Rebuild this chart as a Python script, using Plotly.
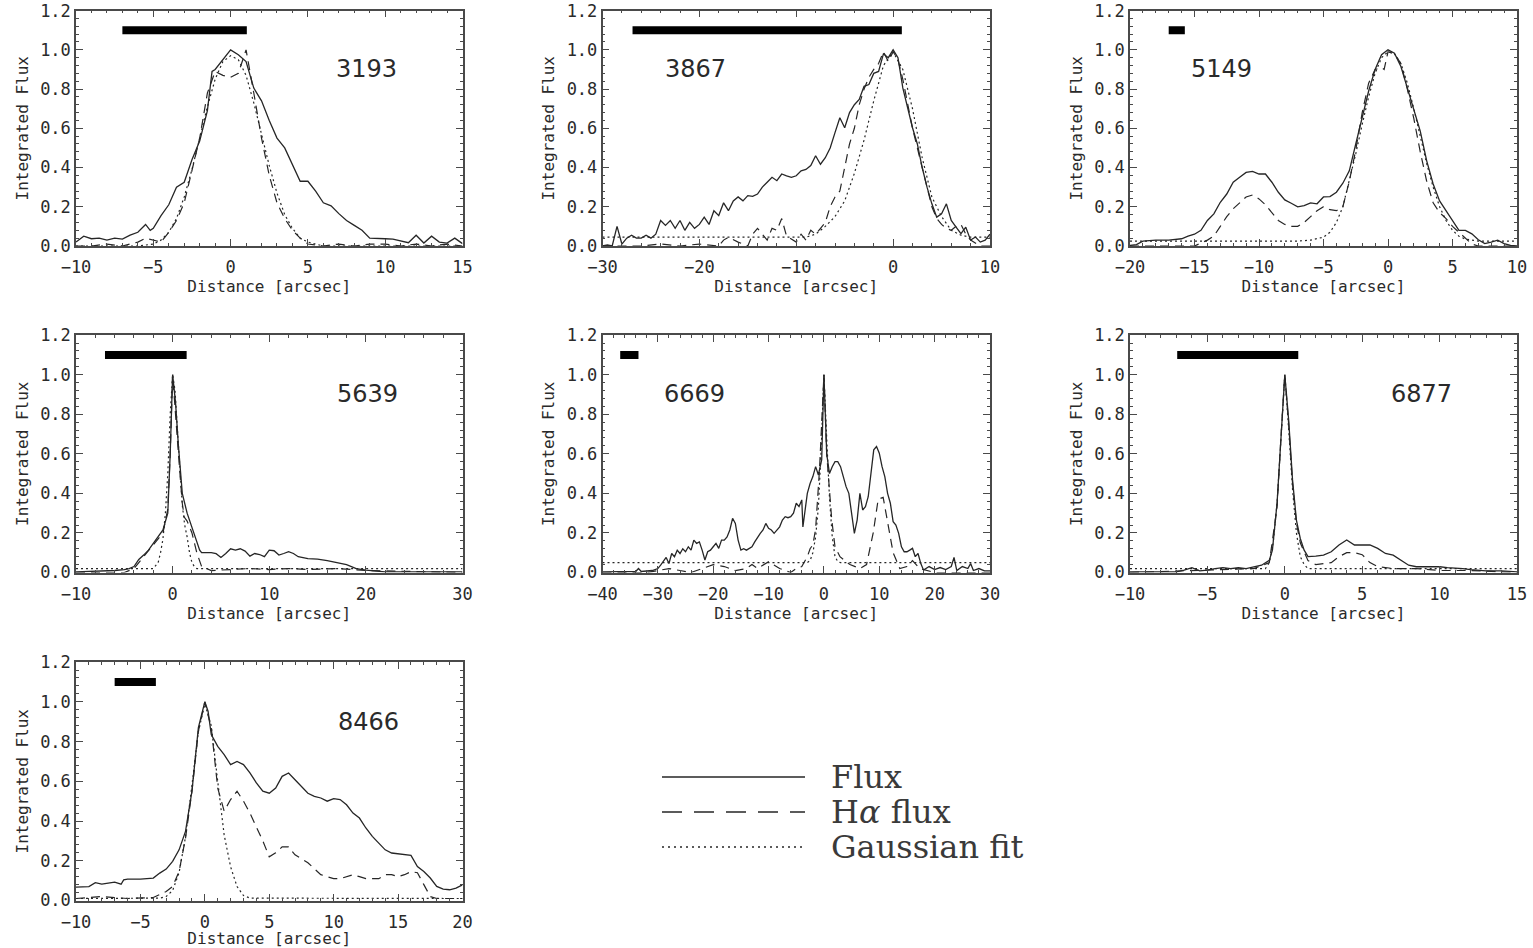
import plotly.graph_objects as go

# ---------------- data ----------------
panel_ids = ["3193", "3867", "5149", "5639", "6669", "6877", "8466"]
x_ranges = [(-10, 15), (-30, 10), (-20, 10), (-10, 30), (-40, 30), (-10, 15), (-10, 20)]
x_dticks = [5, 10, 5, 10, 10, 5, 5]
x_minor = [1, 2, 1, 2, 2, 1, 1]
y_ticks = [0.0, 0.2, 0.4, 0.6, 0.8, 1.0, 1.2]

# slit-length scale bars (x start, x end) drawn at flux level 1.1
bar_start = [-7.0, -26.9, -17.0, -7.0, -36.8, -6.95, -7.0]
bar_end = [1.05, 0.9, -15.75, 1.45, -33.5, 0.87, -3.8]
bar_level = 1.1

# galaxy-number label positions (data coords)
label_x = [8.8, -20.45, -12.9, 20.2, -23.3, 8.85, 12.7]
label_y = [0.9, 0.9, 0.9, 0.9, 0.9, 0.9, 0.9]

flux_3193 = [(-10, 0.02), (-9.5, 0.05), (-9, 0.037), (-8.5, 0.04), (-8, 0.03), (-7.5, 0.04), (-7, 0.035),
             (-6.5, 0.055), (-6, 0.07), (-5.5, 0.11), (-5.2, 0.08), (-5, 0.09), (-4.5, 0.155), (-4, 0.21),
             (-3.5, 0.30), (-3, 0.325), (-2.5, 0.44), (-2, 0.535), (-1.5, 0.69), (-1.2, 0.89), (-1, 0.90),
             (-0.5, 0.95), (0, 1.0), (0.5, 0.975), (1, 0.94), (1.5, 0.805), (2, 0.74), (2.5, 0.64), (3, 0.55),
             (3.5, 0.50), (4, 0.415), (4.5, 0.33), (5, 0.33), (5.5, 0.28), (6, 0.22), (6.5, 0.205), (7, 0.165),
             (7.5, 0.13), (8, 0.105), (8.5, 0.08), (9, 0.04), (9.5, 0.04), (10, 0.037), (10.5, 0.035),
             (11, 0.025), (11.5, 0.017), (12, 0.055), (12.5, 0.015), (13, 0.05), (13.5, 0.02), (14, 0.015),
             (14.5, 0.04), (15, 0.012)]
halpha_3193 = [(-10, 0.0), (-9, 0.0), (-8, 0.01), (-7, 0.0), (-6.5, 0.01), (-6, 0.02), (-5.5, 0.04), (-5, 0.03),
               (-4.5, 0.02), (-4, 0.07), (-3.5, 0.13), (-3, 0.22), (-2.5, 0.38), (-2, 0.55), (-1.5, 0.78),
               (-1, 0.89), (-0.5, 0.87), (0, 0.86), (0.5, 0.88), (1, 1.0), (1.5, 0.78), (2, 0.55), (2.5, 0.36),
               (3, 0.22), (3.5, 0.14), (4, 0.08), (4.5, 0.04), (5, 0.01), (6, 0.0), (7, 0.01), (8, 0.0),
               (9, 0.01), (10, 0.01), (11, 0.0), (12, 0.01), (13, 0.0), (14, 0.01), (15, 0.0)]
gauss_3193 = [(-10, 0.0), (-6, 0.0), (-5, 0.01), (-4.5, 0.03), (-4, 0.07), (-3.5, 0.14), (-3, 0.25), (-2.5, 0.39),
              (-2, 0.55), (-1.5, 0.71), (-1, 0.85), (-0.5, 0.94), (0, 0.97), (0.5, 0.95), (1, 0.87), (1.5, 0.73),
              (2, 0.57), (2.5, 0.41), (3, 0.27), (3.5, 0.16), (4, 0.09), (4.5, 0.04), (5, 0.02), (5.5, 0.01),
              (6, 0.0), (15, 0.0)]

flux_3867 = [(-30, 0.0), (-29.5, 0.005), (-29, 0.0), (-28.5, 0.1), (-28, 0.01), (-27.5, 0.04), (-27, 0.055),
             (-26.5, 0.04), (-26, 0.04), (-25.5, 0.055), (-25, 0.04), (-24.5, 0.06), (-24, 0.13), (-23.5, 0.105),
             (-23, 0.13), (-22.5, 0.09), (-22, 0.13), (-21.5, 0.08), (-21, 0.12), (-20.5, 0.09), (-20, 0.11),
             (-19.5, 0.147), (-19, 0.11), (-18.5, 0.18), (-18, 0.155), (-17.5, 0.22), (-17, 0.18), (-16.5, 0.23),
             (-16, 0.25), (-15.5, 0.23), (-15, 0.257), (-14.5, 0.253), (-14, 0.265), (-13.5, 0.3), (-13, 0.325),
             (-12.5, 0.35), (-12, 0.333), (-11.5, 0.367), (-11, 0.358), (-10.5, 0.35), (-10, 0.358), (-9.5, 0.383),
             (-9, 0.39), (-8.5, 0.41), (-8, 0.46), (-7.5, 0.417), (-7, 0.45), (-6.5, 0.5), (-6, 0.578),
             (-5.5, 0.654), (-5, 0.603), (-4.5, 0.68), (-4, 0.72), (-3.5, 0.747), (-3, 0.814), (-2.5, 0.823),
             (-2, 0.88), (-1.5, 0.89), (-1, 0.98), (-0.5, 0.96), (0, 1.0), (0.5, 0.96), (1, 0.806), (1.5, 0.704),
             (2, 0.603), (2.5, 0.52), (3, 0.4), (3.5, 0.3), (4, 0.215), (4.5, 0.147), (5, 0.164), (5.5, 0.215),
             (6, 0.13), (6.5, 0.096), (7, 0.063), (7.5, 0.096), (8, 0.03), (8.5, 0.046), (9, 0.02), (9.5, 0.03),
             (10, 0.06)]
halpha_3867 = [(-30, 0.0), (-26, 0.0), (-24, 0.01), (-22, 0.0), (-20, 0.01), (-18, 0.0), (-17.5, 0.03),
               (-17, 0.045), (-16, 0.02), (-15, 0.0), (-14.5, 0.06), (-14, 0.09), (-13.5, 0.06), (-13, 0.03),
               (-12.5, 0.09), (-12, 0.08), (-11.5, 0.14), (-11, 0.05), (-10, 0.02), (-9.5, 0.06), (-9, 0.03),
               (-8.5, 0.08), (-8, 0.06), (-7, 0.12), (-6.5, 0.2), (-6, 0.25), (-5.5, 0.28), (-5, 0.4), (-4.5, 0.52),
               (-4, 0.6), (-3.5, 0.72), (-3, 0.8), (-2.5, 0.86), (-2, 0.9), (-1.5, 0.93), (-1, 0.99), (-0.5, 0.94),
               (0, 0.99), (0.5, 0.95), (1, 0.85), (1.5, 0.72), (2, 0.6), (2.5, 0.5), (3, 0.4), (3.5, 0.3), (4, 0.2),
               (4.5, 0.14), (5, 0.11), (5.5, 0.09), (6, 0.08), (6.5, 0.1), (7, 0.11), (7.5, 0.06), (8, 0.03),
               (9, 0.0), (10, 0.0)]
gauss_3867 = [(-30, 0.045), (-9, 0.045), (-8, 0.06), (-7, 0.1), (-6, 0.15), (-5, 0.23), (-4, 0.37), (-3, 0.54),
              (-2, 0.74), (-1, 0.92), (0, 0.99), (1, 0.9), (2, 0.7), (3, 0.45), (4, 0.25), (5, 0.15), (6, 0.08),
              (7, 0.055), (8, 0.045), (10, 0.045)]

flux_5149 = [(-20, 0.003), (-19.5, 0.007), (-19, 0.025), (-18, 0.03), (-17, 0.03), (-16, 0.037), (-15.5, 0.05),
             (-15, 0.06), (-14.5, 0.08), (-14, 0.13), (-13.5, 0.164), (-13, 0.223), (-12.5, 0.265), (-12, 0.325),
             (-11.5, 0.35), (-11, 0.375), (-10.5, 0.38), (-10, 0.367), (-9.5, 0.367), (-9, 0.325), (-8.5, 0.274),
             (-8, 0.235), (-7.5, 0.218), (-7, 0.2), (-6.5, 0.206), (-6, 0.22), (-5.5, 0.215), (-5, 0.25),
             (-4.5, 0.252), (-4, 0.274), (-3.5, 0.32), (-3, 0.383), (-2.5, 0.52), (-2, 0.655), (-1.5, 0.79),
             (-1, 0.9), (-0.5, 0.975), (0, 1.0), (0.5, 0.983), (1, 0.915), (1.5, 0.806), (2, 0.688), (2.5, 0.586),
             (3, 0.434), (3.5, 0.316), (4, 0.23), (4.5, 0.18), (5, 0.13), (5.5, 0.08), (6, 0.08), (6.5, 0.062),
             (7, 0.032), (7.5, 0.012), (8, 0.02), (8.5, 0.03), (9, 0.012), (9.5, 0.003), (10, 0.0)]
halpha_5149 = [(-20, 0.0), (-15, 0.0), (-14, 0.03), (-13.5, 0.05), (-13, 0.1), (-12.5, 0.15), (-12, 0.19),
               (-11.5, 0.22), (-11, 0.25), (-10.5, 0.26), (-10, 0.24), (-9.5, 0.21), (-9, 0.17), (-8.5, 0.13),
               (-8, 0.11), (-7.5, 0.1), (-7, 0.1), (-6.5, 0.12), (-6, 0.15), (-5.5, 0.18), (-5, 0.2), (-4.5, 0.185),
               (-4, 0.18), (-3.5, 0.2), (-3, 0.33), (-2.5, 0.49), (-2, 0.68), (-1.5, 0.83), (-1, 0.9), (-0.5, 0.91),
               (-0.3, 0.9), (0, 0.99), (0.5, 0.98), (1, 0.93), (1.5, 0.8), (2, 0.65), (2.5, 0.48), (3, 0.33),
               (3.5, 0.22), (4, 0.17), (4.5, 0.14), (5, 0.1), (5.5, 0.07), (6, 0.04), (6.5, 0.01), (7, 0.0),
               (10, 0.0)]
gauss_5149 = [(-20, 0.025), (-7, 0.025), (-6, 0.03), (-5, 0.045), (-4.5, 0.07), (-4, 0.12), (-3.5, 0.2), (-3, 0.33),
              (-2.5, 0.47), (-2, 0.62), (-1.5, 0.76), (-1, 0.88), (-0.5, 0.96), (0, 0.99), (0.5, 0.98), (1, 0.93),
              (1.5, 0.83), (2, 0.7), (2.5, 0.56), (3, 0.42), (3.5, 0.3), (4, 0.2), (4.5, 0.13), (5, 0.08),
              (5.5, 0.05), (6, 0.035), (7, 0.025), (10, 0.025)]

flux_5639 = [(-10, 0.003), (-8, 0.005), (-6, 0.01), (-5, 0.015), (-4.5, 0.02), (-4, 0.03), (-3.5, 0.066),
             (-3, 0.088), (-2.5, 0.113), (-2, 0.147), (-1.5, 0.18), (-1, 0.215), (-0.5, 0.3), (-0.25, 0.6),
             (0, 1.0), (0.3, 0.86), (0.6, 0.64), (1, 0.4), (1.5, 0.3), (2, 0.23), (2.5, 0.164), (2.8, 0.113),
             (3, 0.1), (3.5, 0.1), (4, 0.1), (4.5, 0.095), (5, 0.076), (5.5, 0.096), (6, 0.12), (6.5, 0.113),
             (7, 0.12), (7.5, 0.108), (8, 0.083), (8.5, 0.096), (9, 0.091), (9.5, 0.08), (10, 0.113), (10.5, 0.11),
             (11, 0.088), (11.5, 0.096), (12, 0.105), (12.5, 0.096), (13, 0.08), (14, 0.07), (15, 0.068),
             (16, 0.06), (17, 0.05), (18, 0.04), (18.5, 0.03), (19, 0.02), (20, 0.012), (22, 0.003), (25, 0.003),
             (30, 0.003)]
halpha_5639 = [(-10, 0.0), (-5, 0.0), (-4, 0.02), (-3, 0.08), (-2, 0.14), (-1, 0.2), (-0.5, 0.32), (-0.25, 0.6),
               (0, 1.0), (0.3, 0.82), (0.6, 0.6), (1, 0.35), (1.2, 0.28), (1.5, 0.26), (2, 0.2), (2.5, 0.1),
               (2.8, 0.05), (3, 0.03), (4, 0.01), (6, 0.015), (8, 0.02), (10, 0.015), (12, 0.02), (14, 0.015),
               (17, 0.02), (20, 0.01), (25, 0.005), (30, 0.0)]
gauss_5639 = [(-10, 0.02), (-2, 0.02), (-1.5, 0.05), (-1.25, 0.1), (-1, 0.17), (-0.75, 0.3), (-0.5, 0.5),
              (-0.25, 0.8), (0, 1.0), (0.25, 0.92), (0.5, 0.72), (0.75, 0.5), (1, 0.34), (1.25, 0.24), (1.5, 0.18),
              (1.75, 0.1), (2, 0.05), (2.25, 0.03), (2.5, 0.02), (30, 0.02)]

flux_6669 = [(-40, 0.003), (-36, 0.003), (-34, 0.005), (-33.5, 0.02), (-33, 0.005), (-31, 0.01), (-30, 0.02),
             (-29.5, 0.037), (-29, 0.06), (-28.5, 0.076), (-28, 0.045), (-27.5, 0.096), (-27, 0.08), (-26.5, 0.113),
             (-26, 0.096), (-25.5, 0.12), (-25, 0.105), (-24.5, 0.13), (-24, 0.113), (-23.5, 0.164), (-23, 0.147),
             (-22.5, 0.155), (-22, 0.113), (-21.5, 0.063), (-21, 0.105), (-20.5, 0.113), (-20, 0.13),
             (-19.5, 0.147), (-19, 0.122), (-18.5, 0.164), (-18, 0.164), (-17.5, 0.18), (-17, 0.215),
             (-16.5, 0.274), (-16, 0.248), (-15.5, 0.164), (-15, 0.113), (-14.5, 0.12), (-14, 0.113),
             (-13.5, 0.12), (-13, 0.13), (-12.5, 0.155), (-12, 0.18), (-11.5, 0.198), (-11, 0.215), (-10.5, 0.248),
             (-10, 0.223), (-9.5, 0.215), (-9, 0.198), (-8.5, 0.215), (-8, 0.231), (-7.5, 0.265), (-7, 0.282),
             (-6.5, 0.277), (-6, 0.282), (-5.5, 0.3), (-5, 0.35), (-4.5, 0.333), (-4, 0.367), (-3.8, 0.23),
             (-3.5, 0.3), (-3, 0.4), (-2.5, 0.45), (-2, 0.485), (-1.5, 0.535), (-1, 0.493), (-0.4, 0.57), (0, 1.0),
             (0.5, 0.6), (1, 0.5), (1.5, 0.535), (2, 0.56), (2.5, 0.56), (3, 0.535), (3.5, 0.485), (4, 0.434),
             (4.5, 0.4), (5, 0.3), (5.5, 0.198), (6, 0.265), (6.5, 0.4), (7, 0.316), (7.5, 0.333), (8, 0.383),
             (8.5, 0.519), (9, 0.62), (9.5, 0.637), (10, 0.603), (10.5, 0.535), (11, 0.485), (11.5, 0.4),
             (12, 0.35), (12.5, 0.257), (13, 0.24), (13.5, 0.198), (14, 0.13), (14.5, 0.105), (15, 0.105),
             (15.5, 0.113), (16, 0.122), (16.5, 0.08), (17, 0.096), (17.5, 0.045), (18, 0.012), (19, 0.03),
             (20, 0.015), (21, 0.025), (22, 0.015), (23, 0.03), (23.5, 0.076), (24, 0.01), (25, 0.03), (26, 0.02),
             (26.5, 0.045), (27, 0.01), (28, 0.02), (29, 0.008), (30, 0.008)]
halpha_6669 = [(-40, 0.0), (-32, 0.0), (-30, 0.01), (-28, 0.02), (-26, 0.01), (-24, 0.0), (-22, 0.02), (-20, 0.04),
               (-18, 0.03), (-16, 0.01), (-14, 0.02), (-13, 0.04), (-12, 0.02), (-10, 0.055), (-8, 0.02), (-6, 0.0),
               (-5, 0.02), (-4, 0.03), (-3, 0.08), (-2.5, 0.12), (-2, 0.14), (-1.5, 0.22), (-0.8, 0.52), (0, 1.0),
               (0.5, 0.6), (1, 0.4), (1.4, 0.27), (2, 0.13), (2.9, 0.08), (3.8, 0.06), (4.7, 0.04), (6.5, 0.02),
               (7.7, 0.04), (8.9, 0.2), (9.8, 0.37), (10.7, 0.38), (11.6, 0.23), (12.5, 0.1), (13.7, 0.02),
               (15, 0.03), (16, 0.06), (17.3, 0.02), (20, 0.0), (30, 0.0)]
gauss_6669 = [(-40, 0.05), (-3, 0.05), (-2.5, 0.06), (-2, 0.1), (-1.5, 0.18), (-1, 0.33), (-0.5, 0.62), (0, 1.0),
              (0.5, 0.68), (1, 0.38), (1.5, 0.18), (2, 0.08), (2.5, 0.055), (3, 0.05), (30, 0.05)]

flux_6877 = [(-10, 0.003), (-7, 0.003), (-6.5, 0.012), (-6, 0.024), (-5.5, 0.008), (-5, 0.012), (-4.5, 0.02),
             (-4, 0.025), (-3.5, 0.02), (-3, 0.024), (-2.5, 0.02), (-2, 0.029), (-1.5, 0.037), (-1, 0.062),
             (-0.8, 0.113), (-0.5, 0.35), (-0.25, 0.69), (0, 1.0), (0.25, 0.77), (0.5, 0.468), (0.75, 0.265),
             (1, 0.172), (1.25, 0.113), (1.5, 0.08), (2, 0.083), (2.5, 0.088), (3, 0.105), (3.5, 0.139),
             (4, 0.164), (4.5, 0.139), (5, 0.139), (5.5, 0.139), (6, 0.122), (6.5, 0.096), (7, 0.088),
             (7.5, 0.062), (8, 0.037), (8.5, 0.029), (9, 0.029), (9.5, 0.029), (10, 0.029), (10.5, 0.025),
             (11, 0.024), (11.5, 0.02), (12, 0.015), (13, 0.008), (14, 0.008), (15, 0.003)]
halpha_6877 = [(-10, 0.0), (-6, 0.01), (-4, 0.015), (-2, 0.02), (-1, 0.05), (-0.5, 0.33), (-0.25, 0.68), (0, 1.0),
               (0.25, 0.75), (0.5, 0.45), (0.75, 0.25), (1, 0.15), (1.5, 0.06), (2, 0.04), (2.5, 0.045), (3, 0.05),
               (3.5, 0.08), (4, 0.1), (4.5, 0.1), (5, 0.09), (5.5, 0.05), (6, 0.03), (7, 0.02), (8.5, 0.02),
               (10, 0.01), (12, 0.01), (15, 0.0)]
gauss_6877 = [(-10, 0.02), (-1.25, 0.02), (-1, 0.05), (-0.75, 0.15), (-0.5, 0.35), (-0.25, 0.7), (0, 1.0),
              (0.25, 0.72), (0.5, 0.42), (0.75, 0.2), (1, 0.08), (1.25, 0.04), (1.5, 0.02), (15, 0.02)]

flux_8466 = [(-10, 0.067), (-9.5, 0.067), (-9, 0.07), (-8.5, 0.09), (-8, 0.082), (-7.5, 0.087), (-7, 0.092),
             (-6.5, 0.082), (-6.3, 0.104), (-6, 0.108), (-5, 0.108), (-4, 0.113), (-3.5, 0.138), (-3, 0.158),
             (-2.5, 0.197), (-2, 0.255), (-1.5, 0.348), (-1, 0.55), (-0.5, 0.87), (-0.25, 0.936), (0, 1.0),
             (0.25, 0.953), (0.5, 0.835), (1, 0.776), (1.5, 0.734), (2, 0.684), (2.5, 0.7), (3, 0.684),
             (3.5, 0.642), (4, 0.592), (4.5, 0.55), (5, 0.54), (5.5, 0.566), (6, 0.625), (6.5, 0.642), (7, 0.608),
             (7.5, 0.575), (8, 0.54), (8.5, 0.524), (9, 0.516), (9.5, 0.5), (10, 0.513), (10.5, 0.508),
             (11, 0.482), (11.5, 0.44), (12, 0.415), (12.5, 0.365), (13, 0.323), (13.5, 0.289), (14, 0.255),
             (14.5, 0.239), (15, 0.234), (15.5, 0.23), (16, 0.227), (16.5, 0.171), (17, 0.146), (17.5, 0.113),
             (18, 0.071), (18.5, 0.057), (19, 0.054), (19.5, 0.062), (20, 0.079)]
halpha_8466 = [(-10, 0.01), (-8, 0.02), (-6, 0.01), (-4, 0.015), (-3, 0.045), (-2.5, 0.07), (-2, 0.146),
               (-1.5, 0.314), (-1, 0.55), (-0.5, 0.852), (0, 1.0), (0.5, 0.87), (1, 0.566), (1.5, 0.45), (2, 0.508),
               (2.5, 0.55), (3, 0.5), (3.5, 0.44), (4, 0.37), (4.5, 0.3), (5, 0.22), (5.5, 0.24), (6, 0.27),
               (6.5, 0.27), (7, 0.23), (7.5, 0.21), (8, 0.19), (8.5, 0.16), (9, 0.13), (9.5, 0.12), (10, 0.11),
               (10.5, 0.11), (11, 0.12), (11.5, 0.13), (12, 0.12), (12.5, 0.11), (13, 0.11), (13.5, 0.11),
               (14, 0.13), (14.5, 0.13), (15, 0.12), (15.5, 0.13), (16, 0.145), (16.5, 0.14), (17, 0.08),
               (17.5, 0.02), (18, 0.01), (20, 0.01)]
gauss_8466 = [(-10, 0.01), (-3.5, 0.012), (-3, 0.02), (-2.5, 0.05), (-2, 0.14), (-1.5, 0.32), (-1, 0.58),
              (-0.5, 0.85), (0, 0.99), (0.5, 0.88), (1, 0.6), (1.5, 0.33), (2, 0.17), (2.5, 0.07), (3, 0.025),
              (3.5, 0.012), (20, 0.01)]

flux_series = [flux_3193, flux_3867, flux_5149, flux_5639, flux_6669, flux_6877, flux_8466]
halpha_series = [halpha_3193, halpha_3867, halpha_5149, halpha_5639, halpha_6669, halpha_6877, halpha_8466]
gauss_series = [gauss_3193, gauss_3867, gauss_5149, gauss_5639, gauss_6669, gauss_6877, gauss_8466]

legend_labels = ["Flux", "H<i>α</i> flux", "Gaussian fit"]
legend_levels = [0.83, 0.48, 0.13]

# ---------------- layout geometry ----------------
W, H = 1533, 948
col_px = [(76, 462.5), (602.5, 990), (1130, 1517)]
row_px = [(10.5, 246), (335, 572.5), (662, 900.5)]
grid_pos = [(0, 0), (0, 1), (0, 2), (1, 0), (1, 1), (1, 2), (2, 0)]

LINE = "#262626"
AX = "#4a4a4a"
TXT = "#2a2a2a"
MONO = "DejaVu Sans Mono"

fig = go.Figure()
annotations = []
layout_axes = {}

for i, pid in enumerate(panel_ids):
    r, c = grid_pos[i]
    n = "" if i == 0 else str(i + 1)
    xa, ya = "x" + n, "y" + n
    styles = [
        (gauss_series[i], dict(color=LINE, width=1.2, dash="2px,3px")),
        (halpha_series[i], dict(color=LINE, width=1.2, dash="9px,6px")),
        (flux_series[i], dict(color=LINE, width=1.3)),
    ]
    for series, line in styles:
        xs = [p[0] for p in series]
        ys = [p[1] for p in series]
        fig.add_trace(go.Scatter(x=xs, y=ys, mode="lines", line=line, xaxis=xa, yaxis=ya,
                                 showlegend=False, hoverinfo="skip"))
    fig.add_trace(go.Scatter(x=[bar_start[i], bar_end[i]], y=[bar_level, bar_level], mode="lines",
                             line=dict(color="#000000", width=8), xaxis=xa, yaxis=ya,
                             showlegend=False, hoverinfo="skip"))
    annotations.append(dict(text=pid, x=label_x[i], y=label_y[i], xref=xa, yref=ya, showarrow=False,
                            xanchor="center", yanchor="middle",
                            font=dict(family="DejaVu Sans", size=24, color=TXT)))
    x0, x1 = col_px[c]
    y0, y1 = row_px[r]
    layout_axes["xaxis" + n] = dict(
        domain=[x0 / W, x1 / W], anchor=ya, range=list(x_ranges[i]), dtick=x_dticks[i], tick0=0,
        automargin=False, ticklabeloverflow="allow",
        showline=True, linecolor=AX, linewidth=1.5, mirror="ticks", ticks="inside", ticklen=7,
        tickwidth=1.2, tickcolor=AX, showgrid=False, zeroline=False, ticklabelstandoff=5,
        minor=dict(dtick=x_minor[i], ticks="inside", ticklen=3, tickwidth=1, tickcolor=AX, showgrid=False),
        tickfont=dict(family=MONO, size=17, color=TXT),
        title=dict(text="Distance [arcsec]", font=dict(family=MONO, size=16, color=TXT), standoff=0),
    )
    layout_axes["yaxis" + n] = dict(
        domain=[1 - y1 / H, 1 - y0 / H], anchor=xa, range=[0, 1.2005], tickvals=y_ticks,
        automargin=False, ticklabeloverflow="allow",
        tickformat=".1f", showline=True, linecolor=AX, linewidth=1.5, mirror="ticks", ticks="inside",
        ticklen=7, tickwidth=1.2, tickcolor=AX, showgrid=False, zeroline=False,
        minor=dict(dtick=0.04, tick0=0, ticks="inside", ticklen=3, tickwidth=1, tickcolor=AX, showgrid=False),
        tickfont=dict(family=MONO, size=17, color=TXT),
        title=dict(text="Integrated Flux", font=dict(family=MONO, size=16, color=TXT), standoff=8),
    )

# ---------------- legend (drawn in its own hidden axes) ----------------
leg_styles = [dict(color=LINE, width=1.3), dict(color=LINE, width=1.3, dash="20px,12px"),
              dict(color=LINE, width=1.3, dash="2px,4px")]
for lab, lev, st in zip(legend_labels, legend_levels, leg_styles):
    fig.add_trace(go.Scatter(x=[0, 1], y=[lev, lev], mode="lines", line=st, xaxis="x8", yaxis="y8",
                             showlegend=False, hoverinfo="skip"))
    annotations.append(dict(text=lab, x=1.17, y=lev, xref="x8", yref="y8", showarrow=False,
                            xanchor="left", yanchor="middle",
                            font=dict(family="DejaVu Serif", size=32, color="#3a3a3a")))
layout_axes["xaxis8"] = dict(domain=[662 / W, (662 + 143 * 2.8) / W], anchor="y8", range=[0, 2.8],
                             visible=False, automargin=False)
layout_axes["yaxis8"] = dict(domain=[1 - 860 / H, 1 - 760 / H], anchor="x8", range=[0, 1], visible=False,
                             automargin=False)

fig.update_layout(
    width=W, height=H, margin=dict(l=0, r=0, t=0, b=0, autoexpand=False),
    paper_bgcolor="white", plot_bgcolor="white", showlegend=False,
    annotations=annotations, **layout_axes,
)

fig.write_html("out.html")
